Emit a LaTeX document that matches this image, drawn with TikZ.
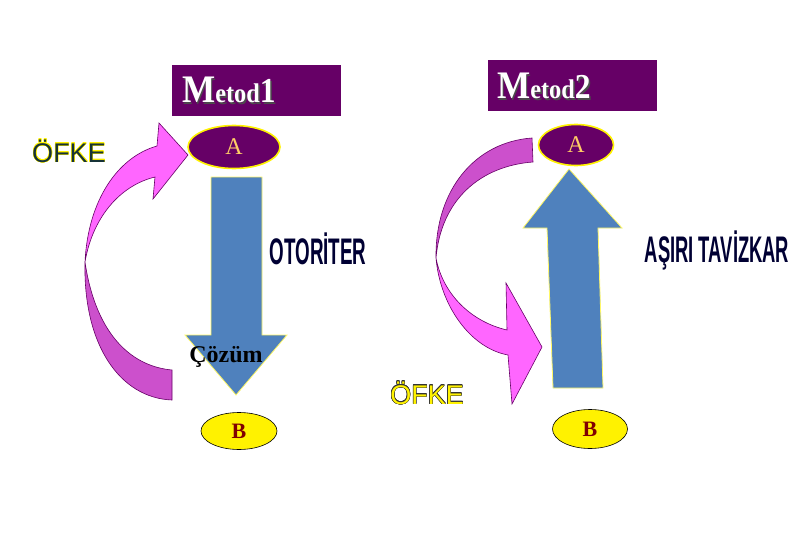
\documentclass[tikz,border=0pt]{standalone}
\usepackage{fontspec}
\setmainfont{Liberation Serif}
\newfontfamily\arialf{Liberation Sans}
\usepackage{contour}
\usepackage{tikz}
\usetikzlibrary{shapes.geometric}
\definecolor{mpurple}{RGB}{102,0,102}
\definecolor{mpink}{RGB}{255,102,255}
\definecolor{morchid}{RGB}{204,80,204}
\definecolor{mblue}{RGB}{79,129,189}
\definecolor{mgold}{RGB}{255,204,102}
\definecolor{mslate}{RGB}{22,50,56}
\definecolor{mnavy}{RGB}{0,0,51}
\definecolor{mred}{RGB}{128,0,0}
\newcommand\metodtxt[1]{\scalebox{0.9}[1]{\bfseries\fontsize{39}{39}\selectfont M\fontsize{27}{27}\selectfont etod\fontsize{35}{35}\selectfont #1}}

\begin{document}
\begin{tikzpicture}[x=1pt,y=-1pt,
  titlebox/.style={fill=mpurple,minimum width=169pt,minimum height=51pt,inner sep=0pt},
  topell/.style={ellipse,fill=mpurple,draw=yellow,line width=1.6pt,inner sep=0pt,text=mgold,font=\fontsize{24}{24}\selectfont},
  botell/.style={ellipse,fill=yellow,draw=black,line width=0.6pt,inner sep=0pt,text=mred,font=\bfseries\fontsize{22}{22}\selectfont},
  blockarrow/.style={fill=mblue,draw=yellow!60!white,line width=0.8pt},
  bendfront/.style={fill=mpink,draw=mpurple,line width=0.6pt},
  bendback/.style={fill=morchid,draw=mpurple,line width=0.6pt},
  stamp/.style={text=mnavy,inner sep=0pt,font=\arialf\bfseries\fontsize{20}{20}\selectfont}]
  \useasboundingbox (0,0) rectangle (810,540);
  % titles
  \node[titlebox] (box1) at (256.5,90.5) {};
  \node[titlebox] (box2) at (572.5,85.5) {};
  \node[anchor=base west,inner sep=0pt,text=black!70] (sh1) at (183.5,104.5) {\metodtxt{1}};
  \node[anchor=base west,inner sep=0pt,text=white] (t1) at (182,103) {\metodtxt{1}};
  \node[anchor=base west,inner sep=0pt,text=black!70] (sh2) at (498.5,100.5) {\metodtxt{2}};
  \node[anchor=base west,inner sep=0pt,text=white] (t2) at (497,99) {\metodtxt{2}};
  % A and B
  \node[topell,minimum width=92pt,minimum height=43pt] (a1) at (234,147) {A};
  \node[topell,minimum width=75pt,minimum height=41pt] (a2) at (576,145) {A};
  \node[botell,minimum width=76pt,minimum height=37pt] (b1) at (239,431) {B};
  \node[botell,minimum width=75pt,minimum height=39pt] (b2) at (590,429) {B};
  % Metod 1
  \draw[blockarrow] (211,177) -- (262,177) -- (262,335) -- (287,335) -- (236,395) -- (185,335) -- (211,335) -- cycle;
  \node[font=\bfseries\fontsize{24}{24}\selectfont,inner sep=0pt] (cozum) at (226,357) {Çözüm};
  \draw[bendback] (85,262) .. controls (83,345) and (120,398) .. (172,400) -- (172,370)
    .. controls (128,366) and (95,330) .. (85,262) -- cycle;
  \draw[bendfront] (85,262) .. controls (88,200) and (118,157) .. (157,146) -- (159,123) -- (188,155)
    -- (153,199) -- (155,177) .. controls (118,186) and (92,220) .. (85,262) -- cycle;
  \node[anchor=base,inner sep=0pt,font=\arialf\fontsize{27}{27}\selectfont] (ofke1) at (69,162)
    {\contourlength{0.3pt}\contour{yellow}{\textcolor{mslate}{ÖFKE}}};
  \node[stamp] (oto) at (318,249) {\scalebox{0.94}[1.85]{OTORİTER}};
  % Metod 2
  \draw[blockarrow] (569,169) -- (622,228) -- (598,228) -- (603,388) -- (553,388) -- (547,228) -- (523,228) -- cycle;
  \draw[bendback] (532,138) .. controls (475,142) and (435,190) .. (436,258)
    .. controls (441,200) and (480,166) .. (533,162) -- cycle;
  \draw[bendfront] (436,258) .. controls (440,305) and (470,348) .. (508,355) -- (512,404) -- (542,347)
    -- (506,283) -- (507,330) .. controls (472,322) and (443,295) .. (436,258) -- cycle;
  \node[anchor=base,inner sep=0pt,font=\arialf\fontsize{27}{27}\selectfont] (ofke2) at (427,404)
    {\contourlength{0.4pt}\contour{black!80}{\textcolor{yellow}{ÖFKE}}};
  \node[stamp] (asiri) at (717,250) {\scalebox{0.92}[1.85]{AŞIRI TAVİZKAR}};
\end{tikzpicture}
\end{document}
